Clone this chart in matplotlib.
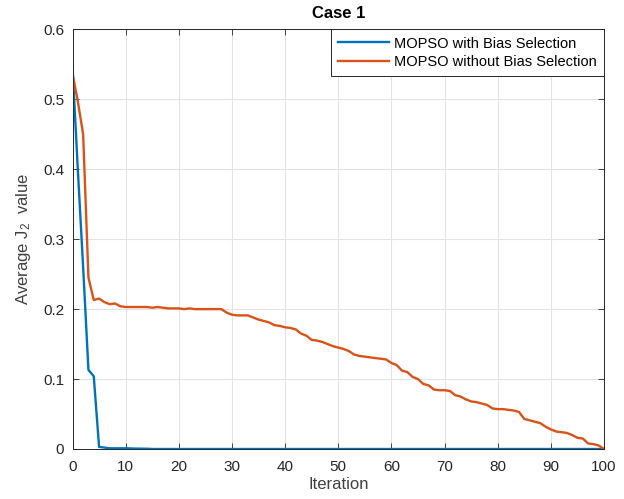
import matplotlib
matplotlib.use("Agg")
import matplotlib.pyplot as plt
import numpy as np

iterations = list(range(0, 101))

with_bias = [0.545, 0.400, 0.260, 0.113, 0.104, 0.003, 0.002, 0.001, 0.001, 0.001,
             0.001, 0.0008, 0.0006, 0.0005, 0.0004] + [0.0] * 86

without_bias = [0.537, 0.497, 0.450, 0.245, 0.213, 0.215, 0.210, 0.207, 0.208, 0.204,
                0.203, 0.203, 0.203, 0.203, 0.203, 0.202, 0.203, 0.202, 0.201, 0.201,
                0.201, 0.200, 0.201, 0.200, 0.200, 0.200, 0.200, 0.200, 0.200, 0.195,
                0.192, 0.191, 0.191, 0.191, 0.188, 0.185, 0.183, 0.181, 0.177, 0.176,
                0.174, 0.173, 0.171, 0.165, 0.162, 0.156, 0.155, 0.153, 0.150, 0.147,
                0.145, 0.143, 0.140, 0.135, 0.133, 0.132, 0.131, 0.130, 0.129, 0.128,
                0.123, 0.120, 0.112, 0.110, 0.103, 0.100, 0.093, 0.091, 0.085, 0.084,
                0.084, 0.083, 0.077, 0.075, 0.071, 0.068, 0.067, 0.065, 0.063, 0.058,
                0.057, 0.057, 0.056, 0.055, 0.053, 0.043, 0.041, 0.039, 0.037, 0.032,
                0.028, 0.025, 0.024, 0.023, 0.020, 0.016, 0.015, 0.008, 0.007, 0.005,
                0.000]

labels = ["MOPSO with Bias Selection", "MOPSO without Bias Selection"]
xticks = list(range(0, 101, 10))
yticks = [0, 0.1, 0.2, 0.3, 0.4, 0.5, 0.6]
ytick_labels = ['0', '0.1', '0.2', '0.3', '0.4', '0.5', '0.6']

plt.rcParams['font.family'] = ['Liberation Sans', 'DejaVu Sans']
plt.rcParams['mathtext.fontset'] = 'custom'
plt.rcParams['mathtext.rm'] = 'Liberation Sans'
plt.rcParams['mathtext.it'] = 'Liberation Sans'

fig = plt.figure(figsize=(6.24, 4.99), dpi=100)
ax = fig.add_axes([72.5/624, 1 - 449/499, (604 - 72.5)/624, (449 - 29.3)/499])

ax.plot(iterations, with_bias, color='#0072BD', lw=1.7, label=labels[0])
ax.plot(iterations, without_bias, color='#D95319', lw=1.7, label=labels[1])

ax.set_xlim(0, 100)
ax.set_ylim(0, 0.6)
ax.set_xticks(xticks)
ax.set_yticks(yticks)
ax.set_yticklabels(ytick_labels)
ax.grid(True, color='#e3e3e3', lw=0.8)
ax.set_axisbelow(True)
ax.tick_params(direction='in', length=4, width=0.6, labelsize=11, colors='#262626',
               top=True, right=True)
ax.tick_params(axis='x', pad=8)
ax.tick_params(axis='y', pad=6)
for s in ax.spines.values():
    s.set_color('#262626')
    s.set_linewidth(0.7)

ax.set_xlabel('Iteration', fontsize=12, color='#404040', labelpad=2)
ax.set_ylabel('Average J$_{\\mathregular{2}}$  value', fontsize=12, color='#404040', labelpad=7)
ax.set_title('Case 1', fontsize=12, fontweight='bold', pad=8)

leg = ax.legend(loc='upper right', bbox_to_anchor=(1, 1), borderaxespad=0,
                fontsize=10.5, fancybox=False, edgecolor='#262626', framealpha=1,
                handlelength=3.5, handletextpad=0.35, borderpad=0.5, labelspacing=0.3)
leg.get_frame().set_linewidth(0.7)

fig.savefig('out.png', dpi=100)
